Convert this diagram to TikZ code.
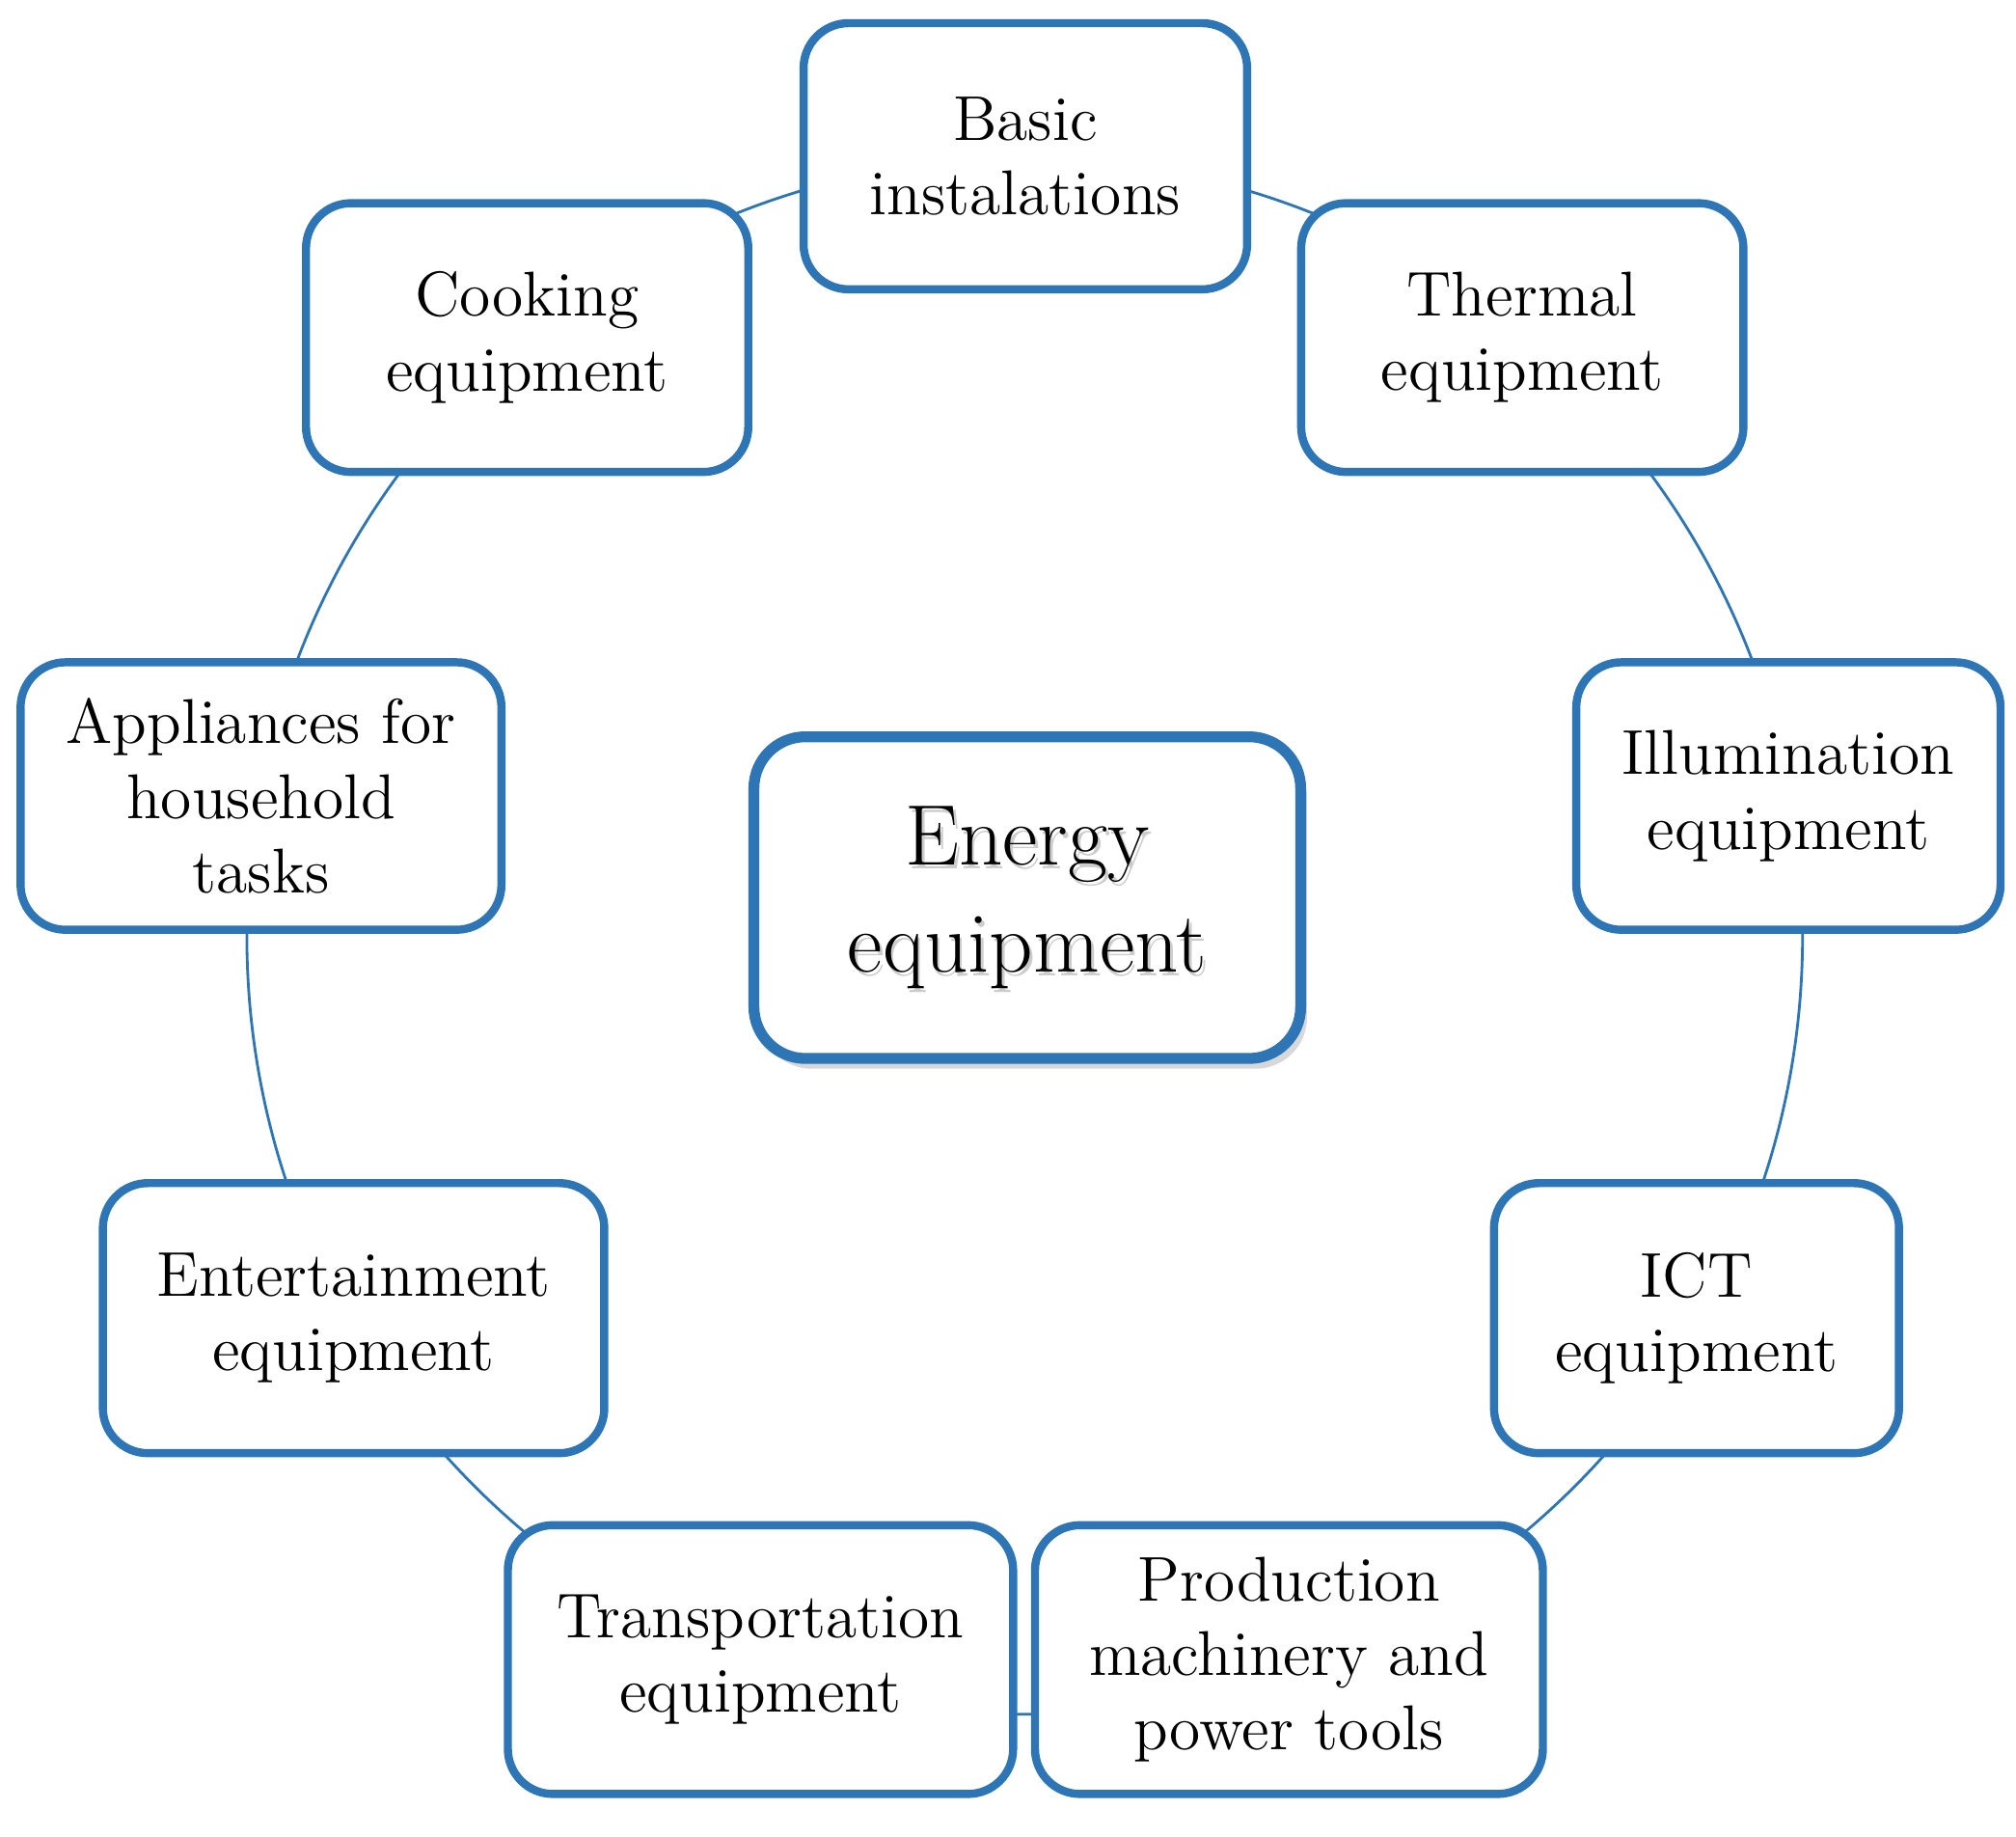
\documentclass[tikz,border=0pt]{standalone}
\usetikzlibrary{shadows}
\definecolor{bl}{HTML}{2E75B6}
\tikzset{
 item/.style={draw=bl, line width=1.8pt, rounded corners=0.35cm, fill=white, align=center,
   font=\fontsize{14}{16.5}\selectfont, inner sep=0pt},
}
\begin{document}
\begin{tikzpicture}[x=0.01cm,y=-0.01cm]
\useasboundingbox (0,0) rectangle (1568,1428);
\fill[white] (0,0) rectangle (1568,1428);
\coordinate (c) at (797,728);
\draw[bl, line width=0.6pt] (c) circle[radius=605];
\newcommand{\bx}[6]{\node[item, minimum width={(#3-#2)*0.01cm}, minimum height={(#5-#4)*0.01cm}] (#1) at ({(#2+#3)/2},{(#4+#5)/2}) {#6};}
\bx{basic}{625}{970}{18}{225}{Basic\\instalations}
\bx{cook}{238}{582}{158}{367}{Cooking\\equipment}
\bx{therm}{1012}{1356}{158}{367}{Thermal\\equipment}
\bx{appl}{16}{390}{515}{723}{Appliances for\\household\\tasks}
\bx{illum}{1226}{1556}{515}{723}{Illumination\\equipment}
\bx{ent}{80}{470}{920}{1130}{Entertainment\\equipment}
\bx{ict}{1162}{1477}{920}{1130}{ICT\\equipment}
\bx{trans}{395}{788}{1186}{1395}{Transportation\\equipment}
\bx{prod}{805}{1200}{1186}{1395}{Production\\machinery and\\power tools}
\node[draw=bl, line width=2.4pt, rounded corners=0.4cm, fill=white,
  drop shadow={shadow xshift=0.5mm, shadow yshift=-0.8mm, opacity=0.3},
  minimum width=4.25cm, minimum height=2.5cm] (center) at (799,698) {};
\node[text=black!20, align=center, font=\fontsize{19}{23.5}\selectfont] at (801,701) {Energy\\equipment};
\node[align=center, font=\fontsize{19}{23.5}\selectfont] (ctext) at (center) {Energy\\equipment};
\end{tikzpicture}
\end{document}
